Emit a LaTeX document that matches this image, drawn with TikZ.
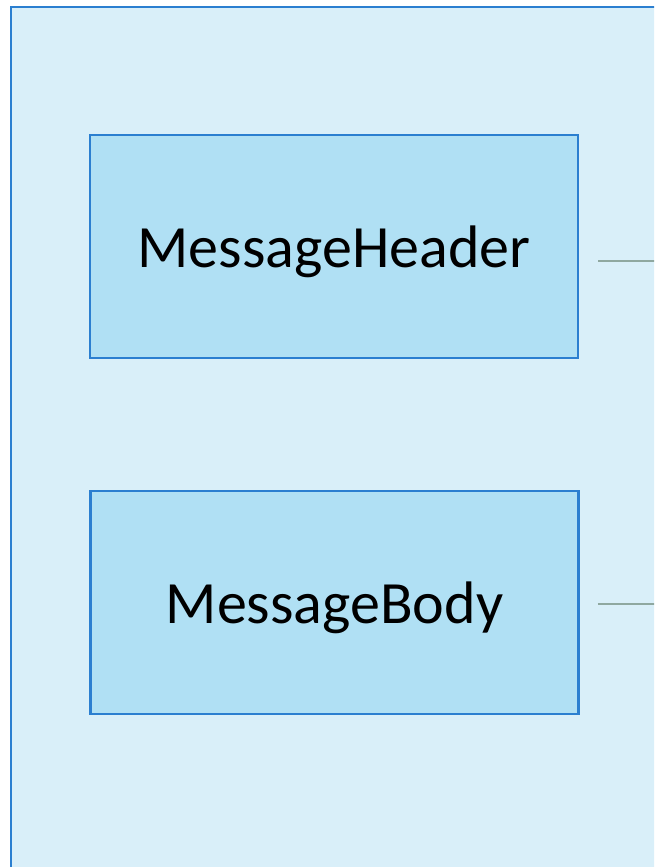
\documentclass[tikz,border=0pt]{standalone}
\usepackage{fontspec}
\setmainfont{Carlito}
\definecolor{outerfill}{HTML}{D9EFF9}
\definecolor{innerfill}{HTML}{B0E0F4}
\definecolor{bordercol}{HTML}{2B7FD0}
\definecolor{linkcol}{HTML}{8FA8A0}
\tikzset{
  outerbox/.style={draw=bordercol, fill=outerfill, line width=2.5pt},
  partbox/.style={draw=bordercol, fill=innerfill, line width=2.5pt, minimum width=488pt, minimum height=223pt, inner sep=0pt, text depth=0pt, font=\fontsize{60}{72}\selectfont},
  link/.style={draw=linkcol, line width=1.8pt}
}
\begin{document}
\begin{tikzpicture}[x=1pt,y=1pt]
\useasboundingbox (0,0) rectangle (654,867);
\clip (0,0) rectangle (654,867);
\draw[outerbox] (11,860) rectangle (670,-10);
\node[partbox] (header) at (334,620.5) {MessageHeader};
\node[partbox] (body) at (334.5,264.5) {MessageBody};
\coordinate (hend) at (660,606);
\coordinate (bend) at (660,263);
\draw[link] ([xshift=19pt]header.east |- 0,606) -- (hend);
\draw[link] ([xshift=18pt]body.east |- 0,263) -- (bend);
\end{tikzpicture}
\end{document}
